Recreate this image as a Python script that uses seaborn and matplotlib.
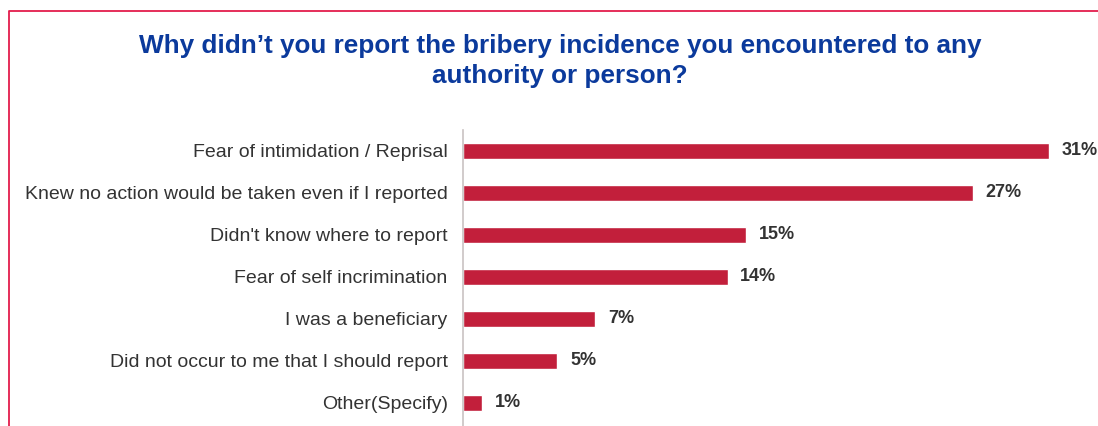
import matplotlib
matplotlib.use("Agg")
import matplotlib.pyplot as plt
from matplotlib.lines import Line2D
import seaborn as sns
import pandas as pd

# Survey responses: reasons for not reporting bribery
reasons = [
    "Fear of intimidation / Reprisal",
    "Knew no action would be taken even if I reported",
    "Didn't know where to report",
    "Fear of self incrimination",
    "I was a beneficiary",
    "Did not occur to me that I should report",
    "Other(Specify)",
]
shares = [31, 27, 15, 14, 7, 5, 1]

title_text = ("Why didn\u2019t you report the bribery incidence you encountered to any\n"
              "authority or person?")

BAR_RED = "#c21f3b"
TITLE_BLUE = "#0b3a9c"
FRAME_RED = "#e31c4c"
TEXT_GREY = "#333333"

sns.set_theme(style="white")
plt.rcParams["font.family"] = ["Liberation Sans", "DejaVu Sans"]

df = pd.DataFrame({"reason": reasons, "share": shares})

fig = plt.figure(figsize=(10.98, 4.26), dpi=100)
fig.patch.set_facecolor("white")

ax = fig.add_axes([463 / 1098, 0.0, 1 - 463 / 1098, (426 - 130) / 426])
sns.barplot(data=df, x="share", y="reason", color=BAR_RED, width=0.4,
            saturation=1, ax=ax, orient="h")

ax.set_xlim(0, 33.6)
ax.set_ylim(6.55, -0.5)
ax.set_xlabel("")
ax.set_ylabel("")
ax.set_xticks([])
ax.tick_params(axis="y", length=0, pad=11, labelsize=14, labelcolor=TEXT_GREY)
for side in ("top", "right", "bottom"):
    ax.spines[side].set_visible(False)
ax.spines["left"].set_color("#c9c2c2")
ax.spines["left"].set_linewidth(1.2)
ax.set_facecolor("none")

for container in ax.containers:
    ax.bar_label(container, fmt="%d%%", padding=9, fontsize=13,
                 fontweight="bold", color=TEXT_GREY)

fig.text(0.51, 0.92, title_text, ha="center", va="top", fontsize=18.8,
         fontweight="bold", color=TITLE_BLUE, linespacing=1.32)

# Thin frame along the left and top edges
frame_x = 8.5 / 1098
frame_y = 1 - 10.5 / 426
fig.add_artist(Line2D([frame_x, frame_x, 1.0], [0.0, frame_y, frame_y],
                      transform=fig.transFigure, color=FRAME_RED, linewidth=1.3))

fig.savefig("out.png", dpi=100, facecolor="white")
